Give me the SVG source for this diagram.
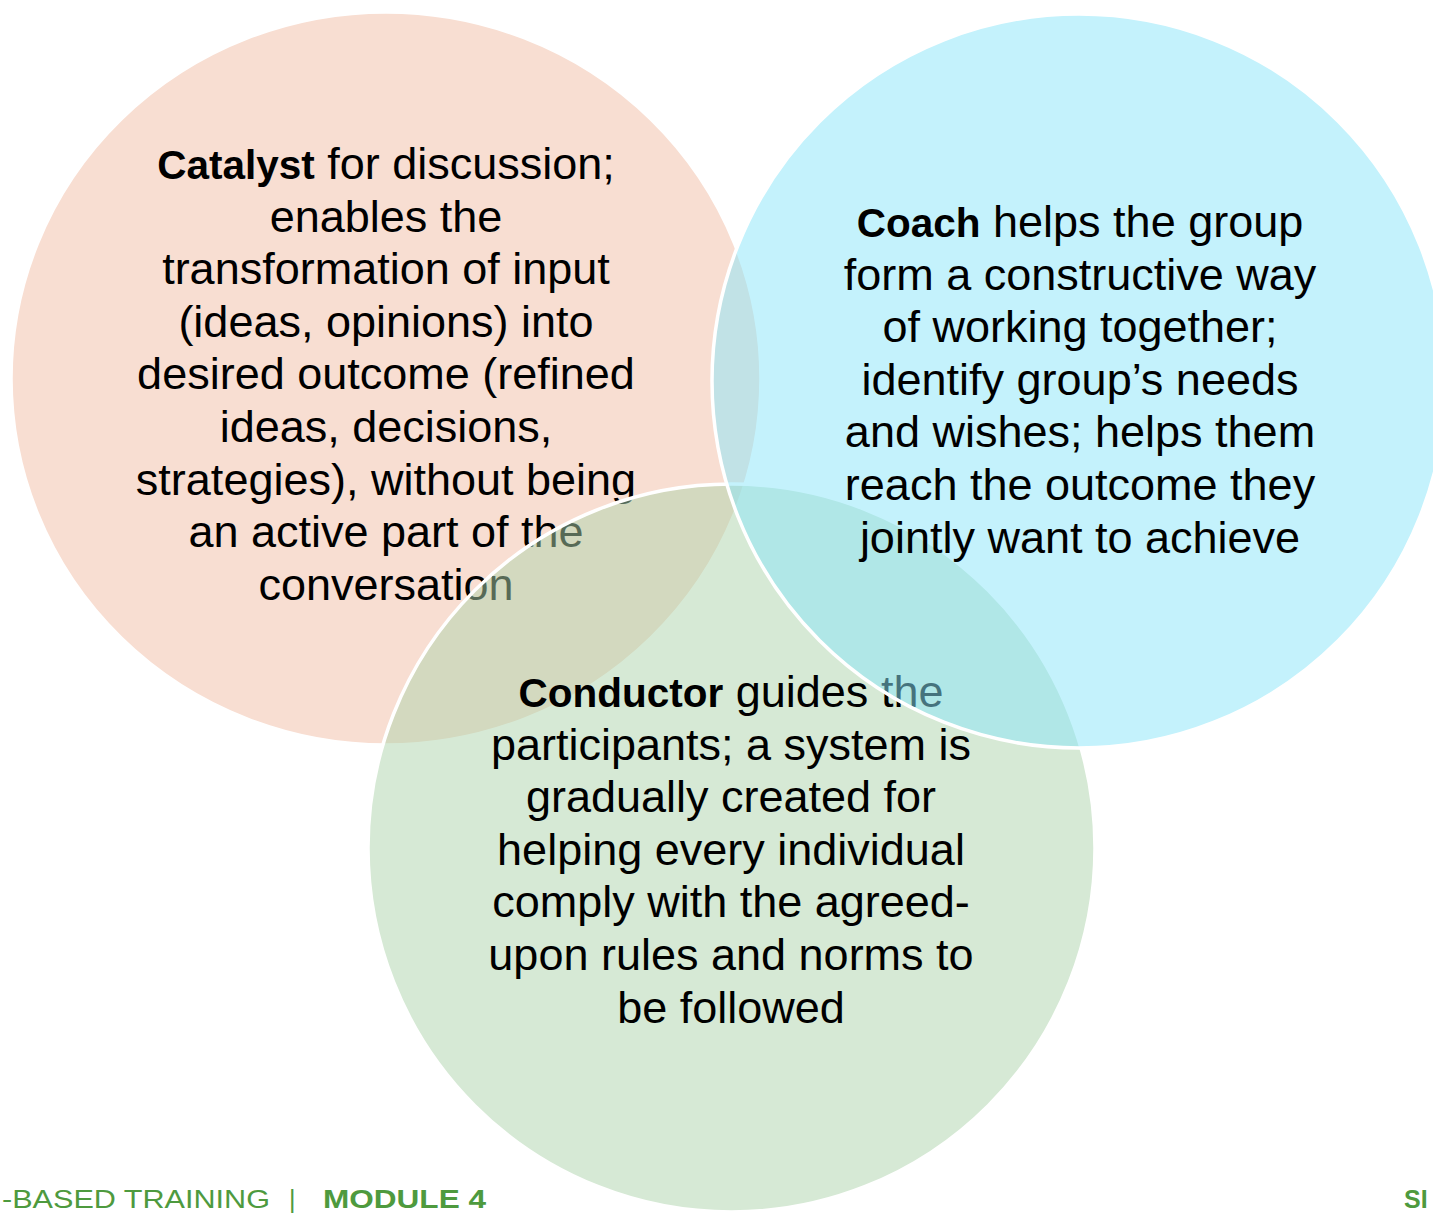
<svg xmlns="http://www.w3.org/2000/svg" width="1433" height="1213" viewBox="0 0 1433 1213">
<style>
.c{stroke:#fff;stroke-width:3.5}
.peach{fill:#F1BDA5;fill-opacity:.5}
.green{fill:#ADD3AB;fill-opacity:.5}
.cyan{fill:#89E5F9;fill-opacity:.5}
.t{font-family:"Liberation Sans",Arial,sans-serif;font-size:45px;fill:#000;text-anchor:middle}
.b{font-weight:bold;font-size:40.5px}
.f{font-family:"Liberation Sans",Arial,sans-serif;font-size:25px;fill:#4E9A3E}
.fb{font-weight:bold}
</style>
<rect width="1433" height="1213" fill="#fff"/>
<g id="catalyst">
<ellipse class="c peach" cx="386" cy="378.5" rx="375" ry="366.5"/>
<text class="t" x="386"><tspan x="386" y="179"><tspan class="b">Catalyst</tspan> for discussion;</tspan><tspan x="386" y="231.6">enables the</tspan><tspan x="386" y="284.2">transformation of input</tspan><tspan x="386" y="336.8">(ideas, opinions) into</tspan><tspan x="386" y="389.4">desired outcome (refined</tspan><tspan x="386" y="442">ideas, decisions,</tspan><tspan x="386" y="494.6">strategies), without being</tspan><tspan x="386" y="547.2">an active part of the</tspan><tspan x="386" y="599.8">conversation</tspan></text>
</g>
<g id="conductor">
<ellipse class="c green" cx="731.5" cy="848" rx="363.5" ry="364"/>
<text class="t"><tspan x="731" y="707"><tspan class="b">Conductor</tspan> guides the</tspan><tspan x="731" y="759.6">participants; a system is</tspan><tspan x="731" y="812.2">gradually created for</tspan><tspan x="731" y="864.8">helping every individual</tspan><tspan x="731" y="917.4">comply with the agreed-</tspan><tspan x="731" y="970">upon rules and norms to</tspan><tspan x="731" y="1022.6">be followed</tspan></text>
</g>
<g id="coach">
<ellipse class="c cyan" cx="1079" cy="381" rx="367" ry="367"/>
<text class="t"><tspan x="1080" y="237"><tspan class="b">Coach</tspan> helps the group</tspan><tspan x="1080" y="289.6">form a constructive way</tspan><tspan x="1080" y="342.2">of working together;</tspan><tspan x="1080" y="394.8">identify group’s needs</tspan><tspan x="1080" y="447.4">and wishes; helps them</tspan><tspan x="1080" y="500">reach the outcome they</tspan><tspan x="1080" y="552.6">jointly want to achieve</tspan></text>
</g>
<g id="footer">
<text class="f" x="2" y="1208" textLength="268" lengthAdjust="spacingAndGlyphs">-BASED TRAINING</text>
<text class="f" x="289" y="1208">|</text>
<text class="f fb" x="323" y="1208" textLength="163" lengthAdjust="spacingAndGlyphs">MODULE 4</text>
<text class="f fb" x="1404" y="1208">SI</text>
</g>
</svg>
